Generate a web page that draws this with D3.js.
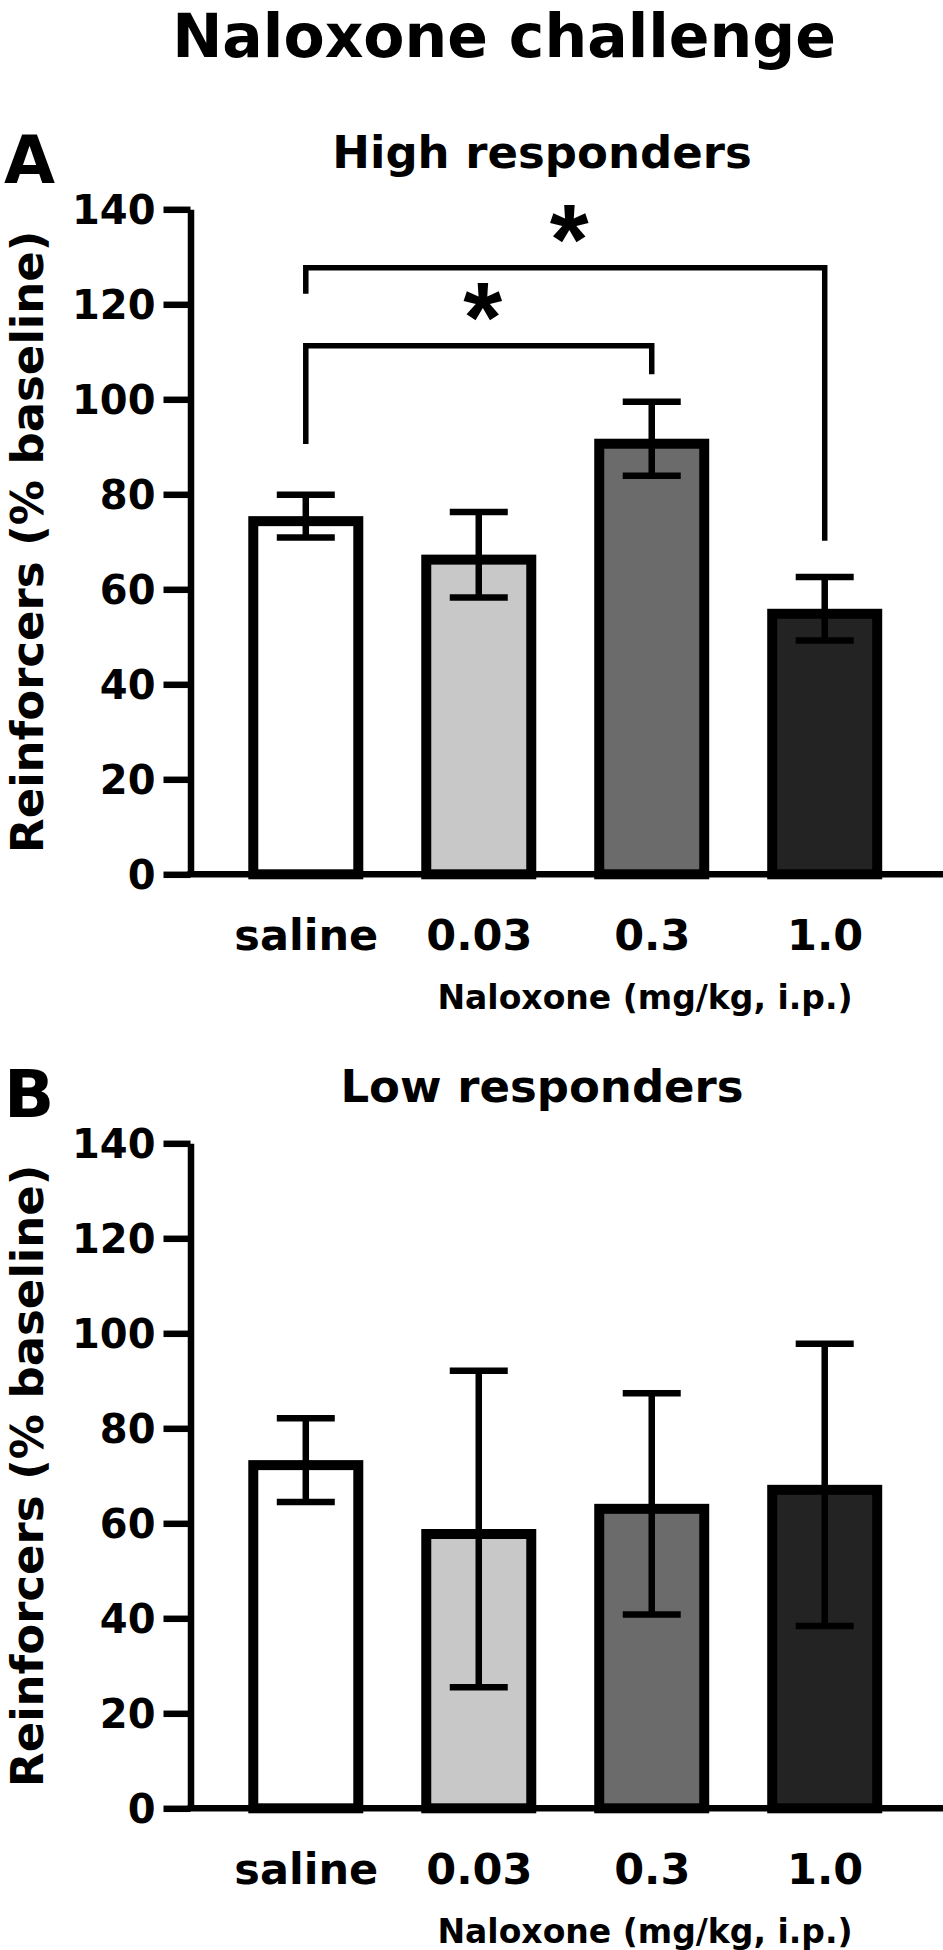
<!DOCTYPE html>
<html>
<head>
<meta charset="utf-8">
<style>
  body { margin: 0; background: #fff; }
  text { font-family: "DejaVu Sans", sans-serif; font-weight: bold; fill: #000; }
</style>
</head>
<body>
<svg width="943" height="1950"></svg>
<script src="https://cdn.jsdelivr.net/npm/d3@7/dist/d3.min.js"></script>
<script>
  // data
  var doses = ["saline", "0.03", "0.3", "1.0"];
  var yTicks = [0, 20, 40, 60, 80, 100, 120, 140];

  var highMean = [75.4, 67.3, 91.7, 55.9];
  var highSem = [4.5, 9.0, 7.8, 6.7];

  var lowMean = [73.3, 58.8, 64.1, 68.1];
  var lowSem = [8.8, 33.3, 23.3, 29.7];

  // significance brackets for high responders: [from, to], bar level, left end, right end
  var sigPairs = [["saline", "1.0"], ["saline", "0.3"]];
  var sigLevel = [127.7, 111.3];
  var sigLeftEnd = [122.2, 90.6];
  var sigRightEnd = [70.2, 105.3];
  var sigLabel = ["*", "*"];

  var barColor = d3.scaleOrdinal().domain(doses).range(["#ffffff", "#c8c8c8", "#6b6b6b", "#232323"]);

  var svg = d3.select("svg"),
    width = +svg.attr("width");

  svg.append("rect").attr("width", width).attr("height", 1950).attr("fill", "#fff");

  svg.append("text")
    .attr("x", 504)
    .attr("y", 57)
    .attr("text-anchor", "middle")
    .attr("font-size", 60)
    .text("Naloxone challenge");

  var x = d3.scalePoint()
    .domain(doses)
    .range([219.3, 911.2])
    .padding(0.5);

  var barOuter = 115, stroke = 10;

  function drawPanel(off, letter, title, means, sems, withSig) {
    var y = d3.scaleLinear().domain([0, 140]).range([874.3 + off, 209.3 + off]);
    var axisX = 190.5;
    var g = svg.append("g");

    g.append("text")
      .attr("x", 4)
      .attr("y", 183 + off)
      .attr("font-size", 66)
      .text(letter);

    g.append("text")
      .attr("x", 542)
      .attr("y", 168 + off)
      .attr("text-anchor", "middle")
      .attr("font-size", 45)
      .text(title);

    // y axis title
    g.append("text")
      .attr("transform", "translate(43," + y(70) + ") rotate(-90)")
      .attr("text-anchor", "middle")
      .attr("font-size", 45)
      .text("Reinforcers (% baseline)");

    // bars (outer edge sits on the mean)
    var data = doses.map(function(d, i) { return { dose: d, mean: means[i], sem: sems[i] }; });

    g.selectAll(".bar")
      .data(data)
      .enter().append("rect")
      .attr("x", function(d) { return x(d.dose) - barOuter / 2 + stroke / 2; })
      .attr("width", barOuter - stroke)
      .attr("y", function(d) { return y(d.mean) + stroke / 2; })
      .attr("height", function(d) { return y(0) - y(d.mean) - stroke / 2; })
      .attr("fill", function(d) { return barColor(d.dose); })
      .attr("stroke", "#000")
      .attr("stroke-width", stroke);

    // error bars
    var err = g.selectAll(".err")
      .data(data)
      .enter().append("g")
      .attr("stroke", "#000")
      .attr("stroke-width", 6.5);
    err.append("line")
      .attr("x1", function(d) { return x(d.dose); })
      .attr("x2", function(d) { return x(d.dose); })
      .attr("y1", function(d) { return y(d.mean - d.sem); })
      .attr("y2", function(d) { return y(d.mean + d.sem); });
    [-1, 1].forEach(function(s) {
      err.append("line")
        .attr("x1", function(d) { return x(d.dose) - 29; })
        .attr("x2", function(d) { return x(d.dose) + 29; })
        .attr("y1", function(d) { return y(d.mean + s * d.sem); })
        .attr("y2", function(d) { return y(d.mean + s * d.sem); });
    });

    // x axis line and labels
    g.append("line")
      .attr("x1", axisX - 3)
      .attr("x2", width)
      .attr("y1", y(0))
      .attr("y2", y(0))
      .attr("stroke", "#000")
      .attr("stroke-width", 6.5);

    var xAxis = g.append("g")
      .attr("transform", "translate(0," + y(0) + ")")
      .call(d3.axisBottom(x).tickSize(0).tickPadding(45));
    xAxis.select(".domain").remove();
    xAxis.selectAll("text")
      .attr("font-family", null)
      .attr("font-size", 43)
      .style("font-family", "DejaVu Sans")
      .style("font-weight", "bold");

    g.append("text")
      .attr("x", 645)
      .attr("y", y(0) + 135)
      .attr("text-anchor", "middle")
      .attr("font-size", 33)
      .text("Naloxone (mg/kg, i.p.)");

    // y axis
    var yAxis = g.append("g")
      .attr("transform", "translate(" + axisX + ",0)")
      .call(d3.axisLeft(y).tickValues(yTicks).tickSize(27).tickSizeOuter(0).tickPadding(8));
    yAxis.select(".domain").attr("stroke-width", 6.5);
    yAxis.selectAll(".tick line").attr("stroke-width", 6.5);
    yAxis.selectAll("text")
      .attr("dy", "0.36em")
      .style("font-family", "DejaVu Sans")
      .style("font-weight", "bold")
      .style("font-size", "40px");

    if (withSig) {
      sigPairs.forEach(function(p, i) {
        var x1 = x(p[0]), x2 = x(p[1]);
        g.append("path")
          .attr("d", "M" + x1 + "," + y(sigLeftEnd[i]) +
            "V" + y(sigLevel[i]) + "H" + x2 + "V" + y(sigRightEnd[i]))
          .attr("fill", "none")
          .attr("stroke", "#000")
          .attr("stroke-width", 5.5);
        g.append("text")
          .attr("x", (x1 + x2) / 2 + 4)
          .attr("y", y(sigLevel[i]) + 6)
          .attr("text-anchor", "middle")
          .attr("font-size", 100)
          .style("font-family", "Liberation Sans")
          .text(sigLabel[i]);
      });
    }
  }

  drawPanel(0, "A", "High responders", highMean, highSem, true);
  drawPanel(934, "B", "Low responders", lowMean, lowSem, false);
</script>
</body>
</html>
